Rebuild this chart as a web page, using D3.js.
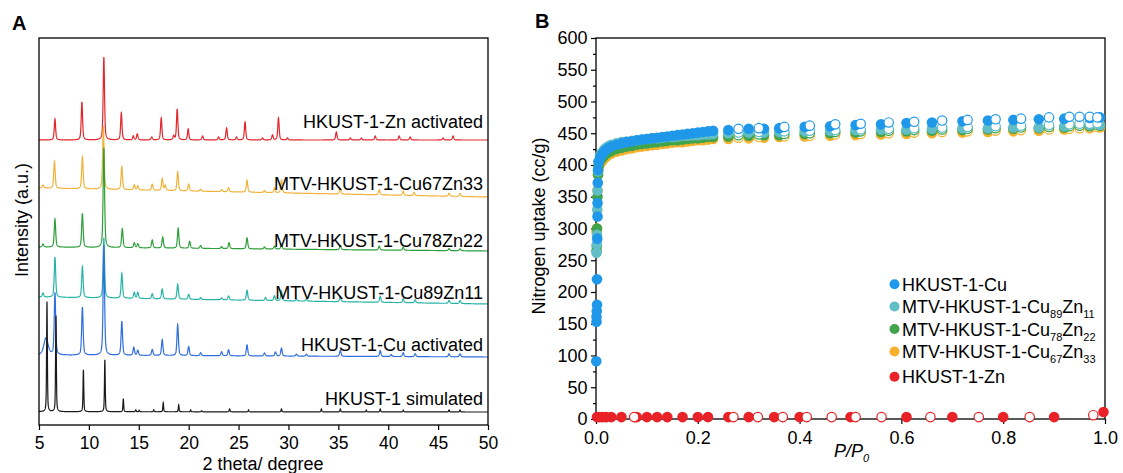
<!DOCTYPE html>
<html>
<head>
<meta charset="utf-8">
<script src="https://cdn.jsdelivr.net/npm/d3@7"></script>
<style>
  body { margin: 0; background: #fff; }
  svg { display: block; font-family: "Liberation Sans", Arial, sans-serif; }
  .tick line { stroke: #000; stroke-width: 1.2; }
  .domain { display: none; }
</style>
</head>
<body>
<svg id="chart" width="1123" height="473"></svg>
<script>
// ---------- panel A : XRD patterns (peak position in 2theta, height in a.u.) ----------
var xrdNames = ["HKUST-1-Zn activated", "MTV-HKUST-1-Cu67Zn33", "MTV-HKUST-1-Cu78Zn22",
                "MTV-HKUST-1-Cu89Zn11", "HKUST-1-Cu activated", "HKUST-1 simulated"];
var xrdColors = ["#e3262b", "#f1b23a", "#2f9e3c", "#27b4a6", "#2f6ede", "#1a1a1a"];
// baseline offset at 5 and at 50 degrees
var xrdBase = [[285, 285], [237, 228], [178, 174], [128, 121], [70, 68], [13.3, 13]];

var peaksZn = [[6.6,21],[9.3,38],[11.5,83],[13.25,27],[14.45,4],[14.85,6],[16.3,3],[17.25,22],
  [18.5,4],[18.85,31],[19.95,11],[21.4,4],[23.0,3],[23.8,12],[24.8,3],[25.65,18],[27.4,2],
  [28.4,5],[29.0,22],[29.9,2],[34.8,8],[36.2,2],[37.3,2],[38.7,4],[41.1,4],[42.2,3],[45.5,2],[46.5,4]];
var peaksCu67 = [[5.4,3],[6.55,27],[9.35,32],[11.45,63],[13.3,23],[14.55,5],[14.9,4],[16.35,6],
  [17.35,12],[17.65,5],[18.9,19],[20.0,7],[21.2,2],[23.3,2],[24.0,4],[25.85,12],[27.6,2],
  [28.6,5],[29.3,13],[35.2,6],[39.1,5],[41.5,4],[42.6,3],[46.1,3],[47.2,3]];
var peaksCu78 = [[5.4,3],[6.6,28],[9.35,34],[11.5,100],[13.35,19],[14.55,5],[14.9,4],[16.35,8],
  [17.4,11],[18.95,20],[20.1,7],[21.2,3],[23.3,2],[24.05,6],[25.85,11],[27.6,2],[28.6,3],
  [29.3,5],[35.2,4],[39.1,4],[41.5,3],[46.1,2],[47.2,2]];
var peaksCu89 = [[5.4,4],[6.6,40],[9.35,31],[11.5,60],[13.3,25],[14.55,6],[14.9,6],[16.35,5],
  [17.35,10],[18.9,15],[20.0,5],[21.2,2],[23.3,2],[24.0,4],[25.85,10],[27.7,3],[28.6,5],
  [29.3,10],[30.8,2],[31.8,2],[35.2,5],[39.2,6],[41.5,4],[42.7,3],[46.1,3],[47.2,3]];
var peaksCu = [[5.7,17,0.5],[6.6,62],[9.35,48],[11.5,110],[13.3,34],[14.5,8],[14.9,5],[16.35,6],
  [17.35,16],[18.9,31],[20.0,9],[21.2,3],[23.3,4],[24.0,6],[25.85,11],[27.6,3],[28.7,4],
  [29.3,8],[30.8,2],[31.8,2],[35.2,6],[39.2,6],[40.3,2],[41.5,4],[42.7,3],[46.1,3],[47.2,3]];
var peaksSim = [[5.8,110],[6.7,96],[9.45,42],[11.6,52],[13.45,13],[14.7,2],[15.05,1.5],[16.5,2],
  [17.45,9],[19.0,7],[20.2,2],[21.3,1],[24.1,3],[26.0,2],[29.3,3],[33.3,3],[35.2,3],[37.8,2],
  [39.2,3],[41.5,2],[46.1,2],[47.2,2]];
var xrdPeaks = [peaksZn, peaksCu67, peaksCu78, peaksCu89, peaksCu, peaksSim];
var xrdWidth = [0.16, 0.17, 0.17, 0.17, 0.17, 0.09];
var xrdLabelY = [128, 190, 246.5, 298.5, 350.5, 405];
var thetaTicks = [5, 10, 15, 20, 25, 30, 35, 40, 45, 50];

// ---------- panel B : N2 isotherms (P/P0, cc/g) ----------
var isoNames = ["HKUST-1-Cu", "MTV-HKUST-1-Cu89Zn11", "MTV-HKUST-1-Cu78Zn22", "MTV-HKUST-1-Cu67Zn33", "HKUST-1-Zn"];
var isoColors = ["#1f98ea", "#62bec6", "#40a44c", "#f6b12c", "#e82226"];

var cuAds = [[0.0005,91],[0.001,153],[0.001,161],[0.0015,170],[0.002,180],[0.002,220],[0.0025,284],
  [0.003,319],[0.003,340],[0.0035,372],[0.004,392],[0.005,405],[0.008,412],[0.012,417],[0.016,421],
  [0.02,424],[0.025,427],[0.03,429],[0.04,432],[0.05,434],[0.06,436],[0.07,437],[0.08,439],[0.09,440],
  [0.10,441],[0.11,442],[0.12,443],[0.13,444],[0.14,445],[0.15,446],[0.16,447],[0.17,448],[0.18,449],
  [0.19,450],[0.20,451],[0.21,452],[0.22,453],[0.23,454],[0.26,455],[0.30,457],[0.33,457],[0.36,458],
  [0.41,460],[0.46,461],[0.51,463],[0.56,464],[0.61,466],[0.66,467],[0.72,469],[0.77,470],[0.82,471],
  [0.87,472],[0.92,473],[0.97,474],[0.99,475]];
var cuDes = [[0.28,457],[0.32,458],[0.37,460],[0.42,462],[0.47,464],[0.52,465],[0.575,467],[0.625,468],
  [0.68,470],[0.73,471],[0.785,472],[0.835,473],[0.89,475],[0.93,476],[0.95,476],[0.97,476],[0.985,475]];

var cu89Ads = [[0.001,262],[0.0015,275],[0.002,290],[0.0025,330],[0.003,360],[0.004,390],[0.005,405],
  [0.008,415],[0.012,420],[0.016,424],[0.02,427],[0.025,430],[0.03,432],[0.04,434],[0.05,436],[0.06,437],
  [0.07,438],[0.08,439],[0.09,440],[0.10,441],[0.11,442],[0.12,442],[0.13,443],[0.14,444],[0.15,444],
  [0.16,445],[0.17,446],[0.18,446],[0.19,447],[0.20,447],[0.21,448],[0.22,448],[0.23,449],[0.26,450],
  [0.30,451],[0.33,451],[0.36,452],[0.41,453],[0.46,454],[0.51,455],[0.56,456],[0.61,456],[0.66,457],
  [0.72,458],[0.77,458],[0.82,459],[0.87,459],[0.92,461],[0.97,463],[0.99,463]];
var cu89Des = [[0.28,451],[0.32,452],[0.37,453],[0.42,454],[0.47,455],[0.52,456],[0.575,457],[0.625,458],
  [0.68,459],[0.73,460],[0.785,461],[0.835,462],[0.89,463],[0.93,464],[0.95,465],[0.97,465],[0.985,466]];

var cu78Ads = [[0.001,265],[0.0015,272],[0.002,300],[0.003,350],[0.004,385],[0.005,398],[0.008,406],
  [0.012,411],[0.016,415],[0.02,418],[0.025,420],[0.03,422],[0.04,425],[0.05,427],[0.06,429],[0.07,430],
  [0.08,432],[0.09,433],[0.10,434],[0.11,435],[0.12,436],[0.13,437],[0.14,438],[0.15,439],[0.16,439],
  [0.17,440],[0.18,441],[0.19,442],[0.20,442],[0.21,443],[0.22,444],[0.23,444],[0.26,445],[0.30,446],
  [0.33,447],[0.36,447],[0.41,449],[0.46,450],[0.51,451],[0.56,452],[0.61,453],[0.66,454],[0.72,455],
  [0.77,456],[0.82,457],[0.87,458],[0.92,459],[0.97,461],[0.99,462]];
var cu78Des = [[0.28,447],[0.32,448],[0.37,449],[0.42,450],[0.47,452],[0.52,453],[0.575,454],[0.625,455],
  [0.68,456],[0.73,457],[0.785,458],[0.835,459],[0.89,460],[0.93,461],[0.95,462],[0.97,463],[0.985,463]];

var cu67Ads = [[0.001,295],[0.002,300],[0.003,360],[0.004,385],[0.005,393],[0.008,401],[0.012,406],
  [0.016,410],[0.02,413],[0.025,416],[0.03,418],[0.04,421],[0.05,423],[0.06,425],[0.07,426],[0.08,428],
  [0.09,429],[0.10,430],[0.11,431],[0.12,432],[0.13,433],[0.14,434],[0.15,435],[0.16,436],[0.17,436],
  [0.18,437],[0.19,438],[0.20,439],[0.21,439],[0.22,440],[0.23,441],[0.26,441],[0.30,442],[0.33,443],
  [0.36,444],[0.41,445],[0.46,446],[0.51,447],[0.56,448],[0.61,449],[0.66,450],[0.72,451],[0.77,452],
  [0.82,453],[0.87,454],[0.92,456],[0.97,458],[0.99,459]];
var cu67Des = [[0.28,443],[0.32,444],[0.37,445],[0.42,446],[0.47,448],[0.52,449],[0.575,450],[0.625,451],
  [0.68,452],[0.73,453],[0.785,454],[0.835,455],[0.89,456],[0.93,457],[0.95,458],[0.97,459],[0.985,460]];

var znAds = [[0.002,3],[0.007,3],[0.013,3],[0.02,3],[0.03,3],[0.05,3],[0.08,3],[0.10,3],[0.12,3],
  [0.14,3],[0.17,3],[0.20,3],[0.22,3],[0.26,3],[0.30,3],[0.35,3],[0.40,3],[0.50,3],[0.61,3],[0.70,3],
  [0.80,3],[0.90,3],[0.997,11]];
var znDes = [[0.075,3],[0.27,3],[0.318,3],[0.367,3],[0.414,3],[0.463,3],[0.51,3],[0.561,3],[0.657,3],
  [0.752,3],[0.852,3],[0.977,6]];

var pTicks = [0, 0.2, 0.4, 0.6, 0.8, 1.0];
var uptakeTicks = d3.range(0, 601, 50);

var svg = d3.select("#chart");

function styleTicks(size) {
  return function(g) {
    g.selectAll("text").style("font-size", size).attr("fill", "#000")
      .style("font-family", "Liberation Sans, Arial, sans-serif");
  };
}

// ================= panel A =================
var xA = d3.scaleLinear().domain([5, 50]).range([39, 488]);
var yA = d3.scaleLinear().domain([0, 387]).range([425, 38]);

function pattern(peaks, w, base) {
  // background + pseudo-voigt peaks
  return d3.range(5, 50.0001, 0.01).map(function(t) {
    var y = base[0] + (base[1] - base[0]) * (t - 5) / 45;
    peaks.forEach(function(p) {
      var d = (t - p[0]) / ((p[2] || w) / 2);
      y += p[1] * (0.5 / (1 + d * d) + 0.5 * Math.exp(-0.693 * d * d));
    });
    return [t, y];
  });
}

var lineA = d3.line().x(function(d){return xA(d[0]);}).y(function(d){return yA(d[1]);});
var gA = svg.append("g");
xrdPeaks.forEach(function(pk, i) {
  gA.append("path")
    .attr("d", lineA(pattern(pk, xrdWidth[i], xrdBase[i])))
    .attr("fill", "none")
    .attr("stroke", xrdColors[i])
    .attr("stroke-width", 1.2);
});
gA.selectAll("text.lab").data(xrdNames).enter().append("text")
  .attr("class", "lab")
  .attr("x", 483).attr("y", function(d, i){ return xrdLabelY[i]; })
  .attr("text-anchor", "end")
  .style("font-size", "18px")
  .text(function(d){ return d; });

svg.append("rect").attr("x", 39).attr("y", 38).attr("width", 449).attr("height", 387)
  .attr("fill", "none").attr("stroke", "#000").attr("stroke-width", 1.3);

svg.append("g").attr("transform", "translate(0,425)")
  .call(d3.axisBottom(xA).tickValues(thetaTicks).tickSize(5).tickPadding(7).tickSizeOuter(0))
  .call(styleTicks("17.5px"));

svg.append("text").attr("x", 263).attr("y", 470).attr("text-anchor", "middle")
  .style("font-size", "18px").text("2 theta/ degree");
svg.append("text").attr("transform", "translate(28,220) rotate(-90)").attr("text-anchor", "middle")
  .style("font-size", "18px").text("Intensity (a.u.)");
svg.append("text").attr("x", 12).attr("y", 30).style("font-size", "20px").style("font-weight", "bold").text("A");

// ================= panel B =================
var xB = d3.scaleLinear().domain([0, 1]).range([596, 1105]);
var yB = d3.scaleLinear().domain([0, 600]).range([419, 38]);

svg.append("rect").attr("x", 596).attr("y", 38).attr("width", 509).attr("height", 381)
  .attr("fill", "none").attr("stroke", "#000").attr("stroke-width", 1.3);

// minor ticks
svg.append("g").attr("transform", "translate(0,419)")
  .call(d3.axisBottom(xB).tickValues([0.1, 0.3, 0.5, 0.7, 0.9]).tickSize(3).tickFormat(""));
svg.append("g").attr("transform", "translate(596,0)")
  .call(d3.axisLeft(yB).tickValues(d3.range(25, 600, 50)).tickSize(3).tickFormat(""));

svg.append("g").attr("transform", "translate(0,419)")
  .call(d3.axisBottom(xB).tickValues(pTicks).tickFormat(d3.format(".1f")).tickSize(5).tickPadding(7))
  .call(styleTicks("18px"));
svg.append("g").attr("transform", "translate(596,0)")
  .call(d3.axisLeft(yB).tickValues(uptakeTicks).tickSize(5).tickPadding(3.5))
  .call(styleTicks("18px"));

var isoSets = [
  [cu67Ads, cu67Des, 3], [cu78Ads, cu78Des, 2], [cu89Ads, cu89Des, 1], [cuAds, cuDes, 0], [znAds, znDes, 4]
];
var gB = svg.append("g");
isoSets.forEach(function(s) {
  var c = isoColors[s[2]];
  gB.append("g").selectAll("circle").data(s[0]).enter().append("circle")
    .attr("cx", function(d){ return xB(d[0]); })
    .attr("cy", function(d){ return yB(d[1]); })
    .attr("r", 5.3).attr("fill", c);
  gB.append("g").selectAll("circle").data(s[1]).enter().append("circle")
    .attr("cx", function(d){ return xB(d[0]); })
    .attr("cy", function(d){ return yB(d[1]); })
    .attr("r", 4.7).attr("fill", "#fff").attr("stroke", c).attr("stroke-width", 1.2);
});

// legend
var legendY = [284.3, 306.5, 329, 351.5, 376.7];
var legend = svg.append("g");
isoNames.forEach(function(name, i) {
  legend.append("circle").attr("cx", 894.5).attr("cy", legendY[i]).attr("r", 5).attr("fill", isoColors[i]);
  var t = legend.append("text").attr("x", 902).attr("y", legendY[i] + 6.5).style("font-size", "18px");
  var m = name.match(/^(MTV-HKUST-1-Cu)(\d+)(Zn)(\d+)$/);
  if (m) {
    t.append("tspan").text(m[1]);
    t.append("tspan").attr("dy", 5).style("font-size", "11px").text(m[2]);
    t.append("tspan").attr("dy", -5).text(m[3]);
    t.append("tspan").attr("dy", 5).style("font-size", "11px").text(m[4]);
  } else {
    t.text(name);
  }
});

svg.append("text").attr("transform", "translate(545,226) rotate(-90)").attr("text-anchor", "middle")
  .style("font-size", "18px").text("Nitrogen uptake (cc/g)");
var pt = svg.append("text").attr("x", 834).attr("y", 457).style("font-size", "18px").style("font-style", "italic");
pt.append("tspan").text("P/P");
pt.append("tspan").attr("dy", 5).style("font-size", "11px").text("0");
svg.append("text").attr("x", 535).attr("y", 28).style("font-size", "20px").style("font-weight", "bold").text("B");
</script>
</body>
</html>
